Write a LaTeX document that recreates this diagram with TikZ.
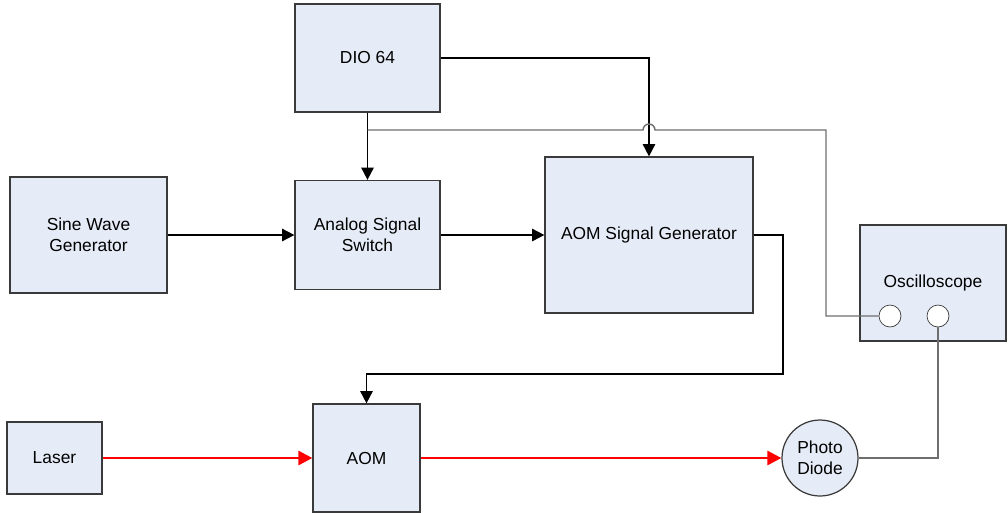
\documentclass[tikz,border=0pt]{standalone}
\usepackage{fontspec}
\setmainfont{Liberation Sans}
\usetikzlibrary{arrows.meta}
\definecolor{boxfill}{HTML}{E6ECF7}
\definecolor{boxline}{HTML}{3A3A3A}
\definecolor{wire}{HTML}{6E6E6E}
\tikzset{
  block/.style={draw=boxline, fill=boxfill, align=center, inner sep=0pt,
    line width=0.7pt, font=\fontsize{9.9}{12}\selectfont},
  port/.style={circle, draw=boxline, fill=white, minimum size=0.44cm, inner sep=0pt},
  signal/.style={-{Triangle[length=7pt,width=7pt]}, line width=1pt},
  beam/.style={-{Triangle[length=8pt,width=8pt]}, red, line width=1.6pt},
  probe/.style={wire, line width=0.8pt}
}

\begin{document}
\begin{tikzpicture}[x=0.02cm, y=-0.02cm]
  \useasboundingbox (0,0) rectangle (1008,512);
  \node[block, minimum width=2.9cm, minimum height=2.16cm] (dio) at (367.5,58) {DIO 64};
  \node[block, minimum width=3.14cm, minimum height=2.32cm] (sine) at (88.5,235) {Sine Wave\\Generator};
  \node[block, minimum width=2.9cm, minimum height=2.18cm] (switch) at (367.5,235) {Analog Signal\\Switch};
  \node[block, minimum width=4.16cm, minimum height=3.12cm] (aomgen) at (649,235) {AOM Signal Generator};
  \node[block, minimum width=2.92cm, minimum height=2.32cm] (scope) at (933,283) {Oscilloscope};
  \node[port] (port1) at (890,316) {};
  \node[port] (port2) at (938,316) {};
  \node[block, minimum width=1.9cm, minimum height=1.44cm] (laser) at (54.5,458) {Laser};
  \node[block, minimum width=2.14cm, minimum height=2.16cm] (aom) at (366.5,458) {AOM};
  \node[block, circle, minimum size=1.52cm] (diode) at (820,458) {Photo\\Diode};

  \coordinate (tap) at (367.5,130);
  \coordinate (hop) at (643,130);
  \coordinate (scopeturn) at (826,130);
  \coordinate (bend) at (783,374);

  \draw[signal] (dio.east) -| (aomgen.north);
  \draw[signal] (dio.south) -- (switch.north);
  \draw[signal] (sine.east) -- (switch.west);
  \draw[signal] (switch.east) -- (aomgen.west);
  \draw[signal] (aomgen.east) -| (bend) -| (aom.north);
  \draw[probe] (tap) -- (hop) arc[start angle=180, end angle=0, radius=0.12cm]
    -- (scopeturn) |- (port1.west);
  \draw[probe] (diode.east) -| (port2.south);
  \draw[beam] (laser.east) -- (aom.west);
  \draw[beam] (aom.east) -- (diode.west);
\end{tikzpicture}
\end{document}
